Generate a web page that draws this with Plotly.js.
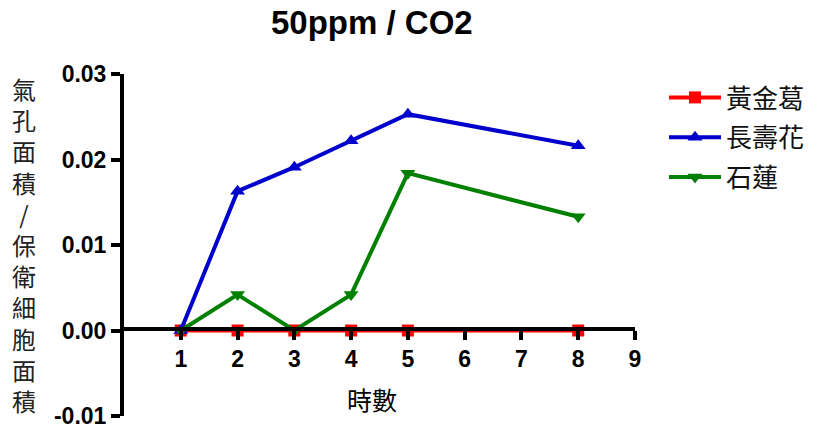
<!DOCTYPE html>
<html>
<head>
<meta charset="utf-8">
<script src="https://cdn.plot.ly/plotly-3.0.1.min.js"></script>
<style>
  html, body { margin: 0; padding: 0; background: #fff; }
  #chart { width: 814px; height: 427px; }
</style>
</head>
<body>
<div id="chart"></div>
<script>
// Hours of measurement
const hours = [1, 2, 3, 4, 5, 8];

// Stomatal area / guard cell area, per plant
const seriesNames = ['黃金葛', '長壽花', '石蓮'];
const pothos = [0, 0, 0, 0, 0, 0];
const kalanchoe = [0, 0.0163, 0.0191, 0.0222, 0.0253, 0.0216];
const echeveria = [0, 0.0042, 0, 0.0042, 0.0184, 0.0133];

const xTicks = [1, 2, 3, 4, 5, 6, 7, 8, 9];
const yTicks = [-0.01, 0, 0.01, 0.02, 0.03];
const yTickLabels = ['-0.01', '0.00', '0.01', '0.02', '0.03'];

const titleText = '50ppm / CO2';
const xTitleText = '時數';
const yTitleText = '氣孔面積/保衛細胞面積';

const latin = '"Liberation Sans", Arial, sans-serif';
const cjk = '"Noto Sans CJK TC", "Noto Sans CJK SC", sans-serif';

function series(name, y, color, symbol, size) {
  return {
    x: hours, y: y, name: name, type: 'scatter', mode: 'lines+markers',
    line: { color: color, width: 4 },
    marker: { color: color, symbol: symbol, size: size },
    legendgroup: name, cliponaxis: false
  };
}

const traces = [
  series(seriesNames[0], pothos, '#ff0000', 'square', 12),
  series(seriesNames[1], kalanchoe, '#0000cc', 'triangle-up', 13),
  series(seriesNames[2], echeveria, '#008000', 'triangle-down', 13)
];

const L = 124, R = 179, T = 74, B = 11;
const W = 814 - L - R, H = 427 - T - B;
const px = v => (v - L) / W;
const py = v => (427 - B - v) / H;

const tickFont = { family: latin, size: 23, color: '#000', weight: 'bold' };

const layout = {
  width: 814, height: 427,
  margin: { l: L, r: R, t: T, b: B, autoexpand: false },
  paper_bgcolor: '#fff', plot_bgcolor: '#fff',
  showlegend: true,
  legend: {
    xref: 'container', yref: 'container',
    x: 664 / 814, xanchor: 'left', y: 1 - 74 / 427, yanchor: 'top',
    font: { family: cjk, size: 26, color: '#111' },
    itemwidth: 52, tracegroupgap: 3, traceorder: 'grouped',
    bgcolor: 'rgba(0,0,0,0)'
  },
  xaxis: {
    range: [0, 9], tickvals: xTicks, ticks: 'outside', ticklen: 9, tickwidth: 4,
    tickcolor: '#000', showline: true, linecolor: '#000', linewidth: 4,
    showgrid: false, zeroline: false, anchor: 'free', position: 0.25 + 2 / H,
    tickfont: tickFont, ticklabeloverflow: 'allow'
  },
  yaxis: {
    range: [-0.01, 0.03], tickvals: yTicks, ticktext: yTickLabels,
    ticks: 'outside', ticklen: 9, tickwidth: 4, tickcolor: '#000',
    showline: true, linecolor: '#000', linewidth: 4,
    showgrid: false, zeroline: false,
    tickfont: tickFont, ticklabeloverflow: 'allow'
  },
  annotations: [
    {
      text: '<b>' + titleText + '</b>', xref: 'paper', yref: 'paper',
      x: px(372), y: py(23), xanchor: 'center', yanchor: 'middle',
      showarrow: false, font: { family: latin, size: 33, color: '#000' }
    },
    {
      text: xTitleText, xref: 'paper', yref: 'paper',
      x: px(372), y: py(399), xanchor: 'center', yanchor: 'middle',
      showarrow: false, font: { family: cjk, size: 25, color: '#000' }
    },
    {
      text: yTitleText.split('').join('<br>'), xref: 'paper', yref: 'paper',
      x: px(24), y: py(244), xanchor: 'center', yanchor: 'middle',
      showarrow: false, font: { family: cjk, size: 24, color: '#222' }
    }
  ]
};

Plotly.newPlot('chart', traces, layout, { staticPlot: true, displayModeBar: false });
</script>
</body>
</html>
